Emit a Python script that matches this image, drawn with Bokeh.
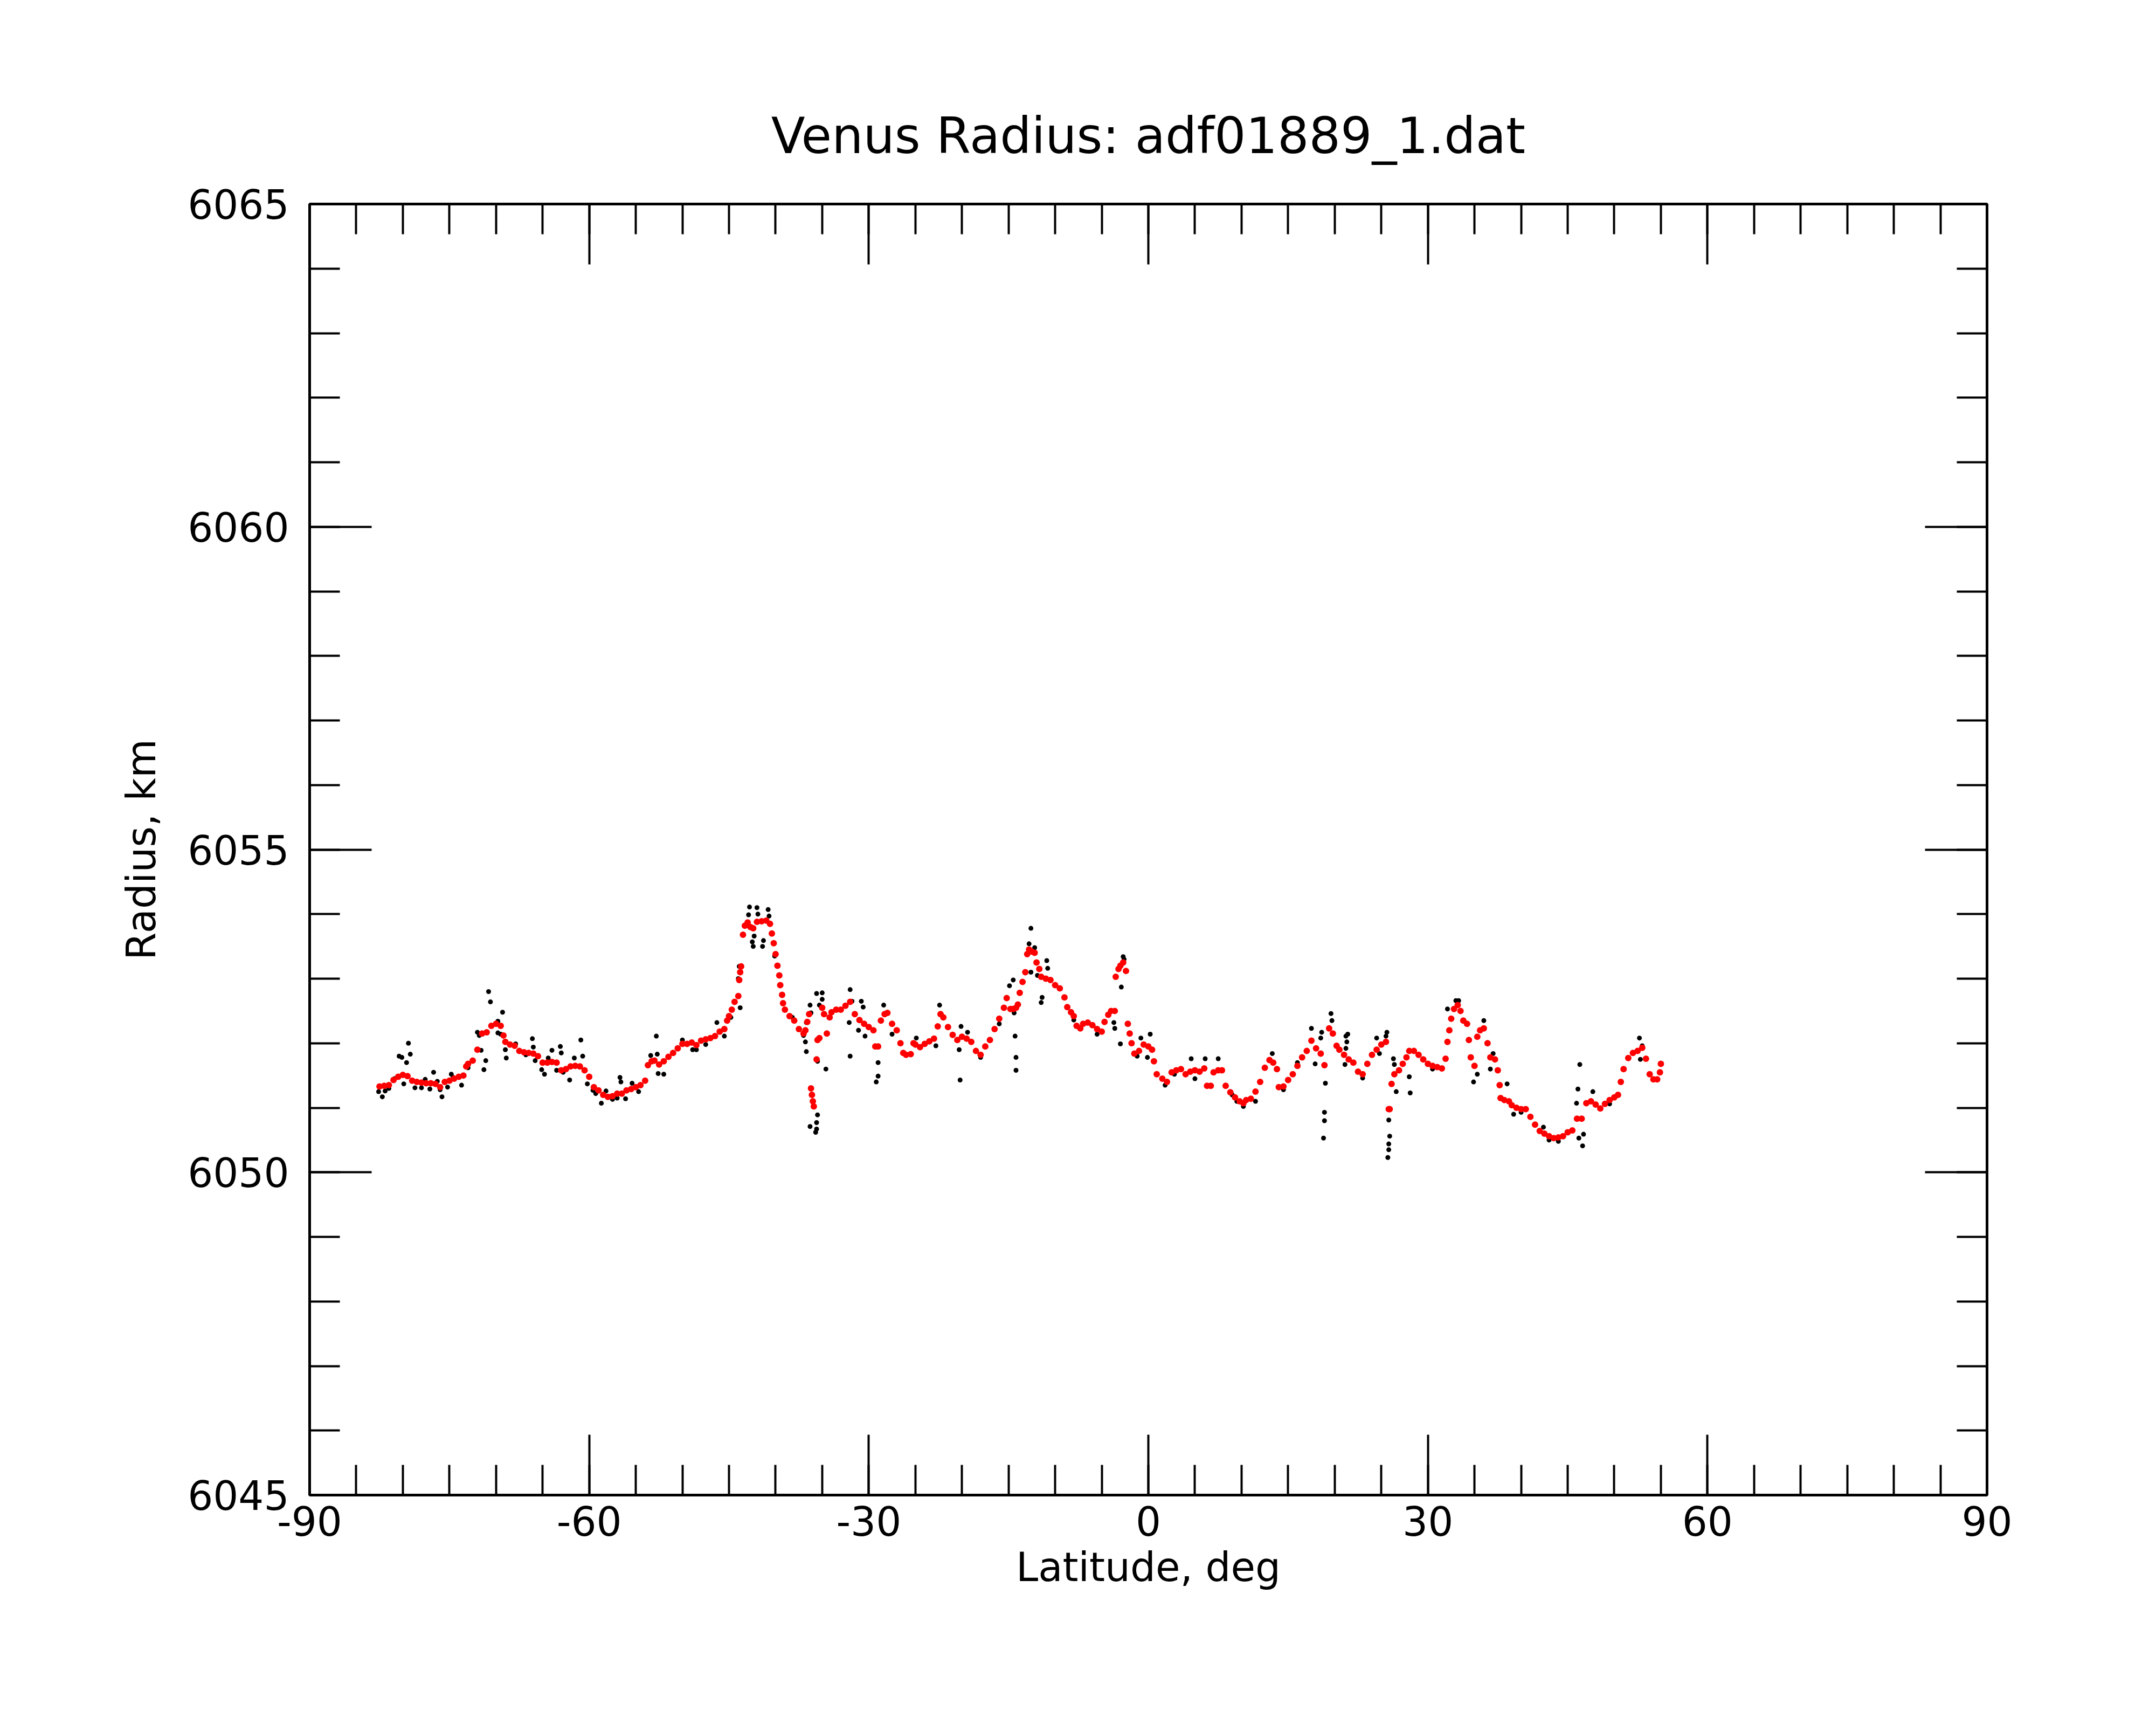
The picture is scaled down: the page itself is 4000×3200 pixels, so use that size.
from bokeh.plotting import figure
from bokeh.models import Range1d, LinearAxis, FixedTicker, ColumnDataSource
from bokeh.embed import file_html
from bokeh.resources import INLINE

title_text = "Venus Radius: adf01889_1.dat"
x_label = "Latitude, deg"
y_label = "Radius, km"
x_major = [-90, -60, -30, 0, 30, 60, 90]
x_minor = list(range(-90, 91, 5))
y_major = [6045, 6050, 6055, 6060, 6065]
y_minor = list(range(6045, 6066))

# smoothed radius (red)
red_lat = [
    -82.5, -82.0, -81.5, -81.0, -80.5, -80.0, -79.5, -79.0, -78.5, -78.0,
    -77.5, -77.0, -76.5, -76.0, -75.5, -75.0, -74.5, -74.0, -73.5, -73.2,
    -73.0, -72.5, -72.0, -71.5, -71.0, -70.5, -70.0, -69.5, -69.2, -69.0,
    -68.5, -68.0, -67.5, -67.0, -66.5, -66.0, -65.5, -65.0, -64.5, -64.0,
    -63.5, -63.0, -62.5, -62.0, -61.5, -61.0, -60.5, -60.0, -59.5, -59.0,
    -58.5, -58.0, -57.5, -57.0, -56.5, -56.0, -55.5, -55.0, -54.5, -54.0,
    -53.7, -53.3, -53.0, -52.5, -52.0, -51.5, -51.0, -50.5, -50.0, -49.5,
    -49.0, -48.5, -48.0, -47.5, -47.0, -46.5, -46.0, -45.5, -45.2, -45.0,
    -44.7, -44.4, -44.0, -43.9, -43.8, -43.7, -43.5, -43.3, -43.0, -42.7,
    -42.4, -42.0, -41.5, -41.0, -40.6, -40.4, -40.2, -40.0, -39.8, -39.6,
    -39.5, -39.3, -39.2, -39.0, -38.5, -38.0, -37.5, -37.0, -36.8, -36.6,
    -36.4, -36.2, -36.1, -36.0, -35.9, -35.6, -35.5, -35.3, -35.0, -34.8,
    -34.5, -34.2, -34.0, -33.5, -33.0, -32.5, -32.0, -31.5, -31.0, -30.5,
    -30.0, -29.5, -29.3, -29.0, -28.7, -28.3, -28.0, -27.5, -27.0, -26.6,
    -26.3, -26.0, -25.5, -25.2, -25.0, -24.5, -24.0, -23.5, -23.0, -22.6,
    -22.3, -22.0, -21.5, -21.0, -20.5, -20.0, -19.5, -19.0, -18.5, -18.0,
    -17.5, -17.0, -16.5, -16.0, -15.5, -15.2, -14.8, -14.5, -14.2, -14.0,
    -13.8, -13.5, -13.2, -13.0, -12.8, -12.5, -12.2, -12.0, -11.7, -11.5,
    -11.0, -10.5, -10.0, -9.5, -9.0, -8.7, -8.3, -8.0, -7.7, -7.3,
    -7.0, -6.5, -6.0, -5.5, -5.0, -4.7, -4.3, -4.0, -3.6, -3.5,
    -3.2, -3.0, -2.7, -2.4, -2.2, -2.0, -1.8, -1.5, -1.0, -0.5,
    0.0, 0.4, 0.6, 0.9, 1.5, 2.0, 2.5, 3.0, 3.5, 4.0,
    4.5, 5.0, 5.5, 6.0, 6.3, 6.7, 7.0, 7.5, 7.9, 8.3,
    8.8, 9.3, 9.8, 10.2, 10.5, 11.0, 11.5, 12.0, 12.5, 13.0,
    13.4, 13.8, 14.0, 14.5, 15.0, 15.5, 16.0, 16.5, 17.0, 17.5,
    18.0, 18.5, 18.9, 19.4, 19.8, 20.2, 20.5, 21.0, 21.5, 22.0,
    22.5, 23.0, 23.5, 24.0, 24.5, 25.0, 25.5, 25.8, 25.9, 26.1,
    26.4, 26.9, 27.3, 27.7, 28.0, 28.5, 29.0, 29.5, 30.0, 30.5,
    31.0, 31.5, 31.9, 32.1, 32.3, 32.5, 32.8, 33.2, 33.5, 33.8,
    34.2, 34.4, 34.6, 35.0, 35.3, 35.6, 36.0, 36.4, 36.7, 37.2,
    37.5, 37.7, 37.8, 38.2, 38.7, 39.0, 39.5, 40.0, 40.5, 41.0,
    41.5, 42.0, 42.5, 43.0, 43.5, 44.0, 44.5, 45.0, 45.5, 46.0,
    46.5, 47.0, 47.5, 48.0, 48.5, 49.0, 49.5, 50.0, 50.4, 50.7,
    51.0, 51.5, 52.0, 52.5, 53.0, 53.4, 53.8, 54.2, 54.6, 54.9,
    55.0,
]
red_rad = [
    6051.33, 6051.34, 6051.35, 6051.43, 6051.48, 6051.51, 6051.49, 6051.42, 6051.40, 6051.39,
    6051.38, 6051.38, 6051.37, 6051.32, 6051.40, 6051.42, 6051.45, 6051.48, 6051.50, 6051.64,
    6051.68, 6051.73, 6051.90, 6052.15, 6052.17, 6052.27, 6052.30, 6052.27, 6052.12, 6052.02,
    6051.98, 6051.96, 6051.88, 6051.86, 6051.85, 6051.84, 6051.80, 6051.70, 6051.70, 6051.71,
    6051.70, 6051.58, 6051.60, 6051.64, 6051.65, 6051.64, 6051.58, 6051.48, 6051.32, 6051.27,
    6051.20, 6051.17, 6051.18, 6051.22, 6051.22, 6051.27, 6051.29, 6051.32, 6051.35, 6051.42,
    6051.66, 6051.72, 6051.73, 6051.67, 6051.72, 6051.79, 6051.85, 6051.92, 6051.99, 6051.99,
    6052.01, 6051.97, 6052.04, 6052.06, 6052.08, 6052.11, 6052.18, 6052.22, 6052.35, 6052.42,
    6052.52, 6052.64, 6052.73, 6052.98, 6053.10, 6053.19, 6053.68, 6053.82, 6053.87, 6053.80,
    6053.78, 6053.88, 6053.89, 6053.90, 6053.85, 6053.70, 6053.55, 6053.38, 6053.20, 6053.05,
    6052.90, 6052.75, 6052.62, 6052.52, 6052.42, 6052.35, 6052.22, 6052.15, 6052.20, 6052.33,
    6052.45, 6051.30, 6051.20, 6051.10, 6051.02, 6051.75, 6052.05, 6052.08, 6052.55, 6052.45,
    6052.15, 6052.40, 6052.48, 6052.52, 6052.52, 6052.58, 6052.64, 6052.45, 6052.36, 6052.30,
    6052.25, 6052.20, 6051.95, 6051.95, 6052.35, 6052.45, 6052.47, 6052.30, 6052.20, 6052.00,
    6051.85, 6051.82, 6051.83, 6052.00, 6051.98, 6051.94, 6051.99, 6052.03, 6052.07, 6052.26,
    6052.45, 6052.40, 6052.25, 6052.13, 6052.05, 6052.10, 6052.07, 6052.02, 6051.88, 6051.82,
    6051.95, 6052.05, 6052.22, 6052.38, 6052.55, 6052.70, 6052.53, 6052.53, 6052.55, 6052.60,
    6052.78, 6052.95, 6053.10, 6053.38, 6053.45, 6053.42, 6053.40, 6053.25, 6053.15, 6053.03,
    6053.00, 6052.98, 6052.90, 6052.85, 6052.71, 6052.56, 6052.48, 6052.42, 6052.27, 6052.23,
    6052.30, 6052.32, 6052.28, 6052.22, 6052.18, 6052.33, 6052.44, 6052.50, 6052.50, 6053.03,
    6053.15, 6053.20, 6053.25, 6053.12, 6052.30, 6052.15, 6052.00, 6051.84, 6051.88, 6051.98,
    6051.95, 6051.90, 6051.72, 6051.52, 6051.45, 6051.40, 6051.55, 6051.58, 6051.60, 6051.52,
    6051.56, 6051.58, 6051.56, 6051.61, 6051.34, 6051.34, 6051.55, 6051.58, 6051.58, 6051.34,
    6051.24, 6051.16, 6051.10, 6051.07, 6051.12, 6051.14, 6051.25, 6051.40, 6051.62, 6051.74,
    6051.70, 6051.60, 6051.32, 6051.33, 6051.43, 6051.52, 6051.65, 6051.78, 6051.88, 6052.04,
    6051.92, 6051.84, 6051.66, 6052.23, 6052.15, 6051.96, 6051.90, 6051.82, 6051.75, 6051.70,
    6051.56, 6051.52, 6051.68, 6051.82, 6051.90, 6051.98, 6052.02, 6050.98, 6050.98, 6051.37,
    6051.52, 6051.58, 6051.68, 6051.78, 6051.88, 6051.88, 6051.82, 6051.75, 6051.68, 6051.65,
    6051.63, 6051.61, 6051.76, 6052.02, 6052.20, 6052.38, 6052.53, 6052.59, 6052.50, 6052.35,
    6052.30, 6052.05, 6051.78, 6051.65, 6052.10, 6052.20, 6052.23, 6052.00, 6051.78, 6051.75,
    6051.58, 6051.35, 6051.15, 6051.12, 6051.10, 6051.04, 6051.00, 6050.98, 6050.98, 6050.86,
    6050.74, 6050.64, 6050.60, 6050.56, 6050.53, 6050.54, 6050.56, 6050.62, 6050.65, 6050.83,
    6050.83, 6051.07, 6051.10, 6051.05, 6050.99, 6051.06, 6051.12, 6051.16, 6051.20, 6051.40,
    6051.60, 6051.77, 6051.85, 6051.88, 6051.93, 6051.76, 6051.52, 6051.44, 6051.44, 6051.55,
    6051.68,
]

# raw radius samples (black)
black_lat = [
    -82.6, -82.2, -81.9, -81.5, -80.9, -80.4, -80.1, -79.6, -79.4, -79.2,
    -79.9, -78.7, -78.0, -77.6, -77.1, -76.7, -76.3, -76.0, -75.8, -75.2,
    -74.8, -74.6, -73.7, -73.0, -72.0, -71.8, -71.6, -70.8, -70.6, -71.1,
    -71.3, -69.8, -69.3, -69.8, -69.5, -69.0, -68.9, -67.9, -66.8, -66.1,
    -66.0, -65.8, -65.1, -64.8, -64.4, -64.0, -63.5, -63.1, -63.0, -62.1,
    -61.6, -60.9, -60.7, -60.2, -59.6, -59.3, -58.7, -58.2, -57.5, -56.7,
    -56.6, -56.1, -55.4, -54.7, -53.4, -52.8, -52.7, -52.6, -52.0, -50.0,
    -48.9, -48.5, -47.5, -46.3, -45.5, -44.8, -43.8, -43.9, -43.8, -44.0,
    -42.8, -42.0, -40.8, -42.9, -41.9, -40.7, -42.3, -42.5, -42.4, -41.3,
    -41.4, -40.1, -38.2, -36.8, -36.7, -37.0, -35.6, -35.0, -35.0, -35.3,
    -36.3, -36.2, -36.7, -34.6, -35.5, -36.3, -35.7, -35.6, -35.5, -35.6,
    -32.0, -31.8, -32.1, -32.0, -30.8, -30.6, -31.1, -30.4, -29.0, -29.2,
    -29.0, -28.4, -27.5, -24.9, -22.4, -22.8, -20.2, -20.1, -19.4, -20.3,
    -14.5, -14.9, -14.4, -14.3, -14.2, -14.2, -16.0, -18.0, -12.6, -12.8,
    -12.2, -10.9, -10.8, -11.4, -11.5, -12.6, -11.9, -2.7, -2.6, -2.9,
    -3.7, -3.6, -3.0, 0.2, -0.8, -0.1, 4.6, 6.1, 7.5, 1.8,
    5.0, 13.3, 16.0, 17.5, 18.6, 18.5, 17.9, 19.0, 18.9, 18.9,
    18.8, 19.6, 19.7, 21.2, 21.2, 21.1, 10.2, 11.5, 9.5, 21.4,
    21.3, 24.5, 25.6, 25.5, 24.8, 25.8, 25.9, 25.8, 25.8, 25.7,
    26.3, 26.4, 26.6, 28.1, 28.0, 32.1, 33.3, 33.0, 34.9, 35.3,
    36.0, 37.0, 36.7, 38.5, 39.2, 42.4, 46.3, 46.1, 45.95, 46.2,
    46.6, 46.7, 47.7, 52.7, 53.0, 52.8, 44.0, 40.0, -8.0, -5.5,
    -1.2, 2.8, 9.0, 14.5, 23.0, 30.5, 43.0, 49.5, -62.8, -57.0,
]
black_rad = [
    6051.25, 6051.17, 6051.26, 6051.30, 6051.45, 6051.80, 6051.78, 6051.70, 6052.00, 6051.83,
    6051.37, 6051.31, 6051.31, 6051.44, 6051.29, 6051.55, 6051.41, 6051.28, 6051.17, 6051.32,
    6051.52, 6051.47, 6051.35, 6051.62, 6052.17, 6052.12, 6051.89, 6052.80, 6052.64, 6051.73,
    6051.59, 6052.34, 6052.48, 6052.16, 6052.14, 6051.90, 6051.77, 6051.99, 6051.82, 6052.07,
    6051.94, 6051.73, 6051.59, 6051.52, 6051.77, 6051.89, 6051.58, 6051.95, 6051.85, 6051.43,
    6051.77, 6052.05, 6051.80, 6051.37, 6051.27, 6051.22, 6051.07, 6051.26, 6051.13, 6051.47,
    6051.40, 6051.14, 6051.38, 6051.25, 6051.81, 6052.11, 6051.83, 6051.53, 6051.52, 6052.05,
    6051.90, 6051.90, 6051.98, 6052.32, 6052.11, 6052.40, 6052.55, 6053.19, 6053.10, 6053.00,
    6054.11, 6054.10, 6054.07, 6053.99, 6054.00, 6053.97, 6053.66, 6053.57, 6053.50, 6053.59,
    6053.50, 6053.35, 6052.40, 6052.02, 6051.87, 6052.12, 6052.77, 6052.78, 6052.68, 6052.59,
    6052.59, 6052.47, 6052.32, 6051.60, 6051.72, 6050.71, 6050.62, 6050.77, 6050.89, 6050.67,
    6052.83, 6052.65, 6052.32, 6051.80, 6052.65, 6052.56, 6052.20, 6052.11, 6051.49, 6051.40,
    6051.70, 6052.59, 6052.14, 6052.08, 6052.59, 6051.96, 6051.43, 6052.26, 6052.17, 6051.90,
    6052.98, 6052.89, 6052.47, 6052.11, 6051.78, 6051.58, 6052.30, 6051.78, 6053.78, 6053.54,
    6053.48, 6053.28, 6053.16, 6052.71, 6052.63, 6053.10, 6053.05, 6053.34, 6053.30, 6052.87,
    6052.32, 6052.23, 6051.99, 6052.14, 6052.08, 6051.78, 6051.76, 6051.76, 6051.76, 6051.35,
    6051.45, 6051.84, 6051.70, 6052.23, 6052.17, 6052.08, 6051.68, 6051.38, 6050.93, 6050.80,
    6050.53, 6052.46, 6052.35, 6052.11, 6051.92, 6051.67, 6051.02, 6051.10, 6051.10, 6052.14,
    6052.02, 6052.08, 6052.17, 6052.11, 6051.84, 6050.81, 6050.56, 6050.44, 6050.35, 6050.23,
    6051.76, 6051.67, 6051.25, 6051.23, 6051.48, 6052.53, 6052.66, 6052.66, 6051.40, 6051.52,
    6052.35, 6051.84, 6051.60, 6051.37, 6050.90, 6050.70, 6051.67, 6051.29, 6051.07, 6050.53,
    6050.41, 6050.59, 6051.25, 6052.08, 6051.96, 6051.75, 6050.48, 6050.93, 6052.36, 6052.14,
    6051.80, 6051.52, 6051.20, 6051.28, 6051.46, 6051.60, 6050.50, 6051.06, 6051.55, 6051.15,
]

FONT = "DejaVu Sans"
W, H = 3980, 3180
p = figure(width=W, height=H, output_backend="svg", toolbar_location=None,
           x_range=Range1d(-90, 90), y_range=Range1d(6045, 6065),
           x_axis_location=None, y_axis_location=None,
           min_border_left=574, min_border_right=294,
           min_border_top=378, min_border_bottom=407)
p.background_fill_color = "white"
p.border_fill_color = "white"
p.grid.visible = False
p.outline_line_color = "black"
p.outline_line_width = 5

p.title.text = title_text
p.title.align = "center"
p.title.text_font = FONT
p.title.text_font_size = "92px"
p.title.text_font_style = "normal"
p.title.text_color = "black"
p.title.standoff = 145

bottom_ax = LinearAxis(axis_label=x_label)
top_ax = LinearAxis()
left_ax = LinearAxis(axis_label=y_label)
right_ax = LinearAxis()
p.add_layout(bottom_ax, "below")
p.add_layout(top_ax, "above")
p.add_layout(left_ax, "left")
p.add_layout(right_ax, "right")

for ax, major, minor in [(bottom_ax, x_major, x_minor), (top_ax, x_major, x_minor),
                         (left_ax, y_major, y_minor), (right_ax, y_major, y_minor)]:
    ax.ticker = FixedTicker(ticks=major, minor_ticks=minor)
    ax.axis_line_color = "black"
    ax.axis_line_width = 5
    ax.major_tick_line_color = "black"
    ax.minor_tick_line_color = "black"
    ax.major_tick_line_width = 4
    ax.minor_tick_line_width = 4
    ax.major_tick_out = 0
    ax.minor_tick_out = 0
    ax.major_label_text_font = FONT
    ax.major_label_text_font_size = "74px"
    ax.major_label_text_color = "black"
    ax.axis_label_text_font = FONT
    ax.axis_label_text_font_size = "74px"
    ax.axis_label_text_font_style = "normal"
    ax.axis_label_text_color = "black"

for ax in [bottom_ax, top_ax]:
    ax.major_tick_in = 112
    ax.minor_tick_in = 56
for ax in [left_ax, right_ax]:
    ax.major_tick_in = 115
    ax.minor_tick_in = 56

for ax, major in [(top_ax, x_major), (right_ax, y_major)]:
    ax.major_label_overrides = {v: "" for v in major}
    ax.major_label_text_font_size = "1px"
    ax.major_label_standoff = 0

bottom_ax.major_label_overrides = {v: str(v) for v in x_major}
bottom_ax.major_label_standoff = 20
bottom_ax.axis_label_standoff = 12
left_ax.major_label_standoff = 38
left_ax.axis_label_standoff = 40

black_src = ColumnDataSource(dict(lat=black_lat, rad=black_rad))
red_src = ColumnDataSource(dict(lat=red_lat, rad=red_rad))
p.scatter("lat", "rad", source=black_src, size=9, color="black", line_color=None)
p.scatter("lat", "rad", source=red_src, size=12, color="red", line_color=None)

open("out.html", "w").write(file_html(p, INLINE))
